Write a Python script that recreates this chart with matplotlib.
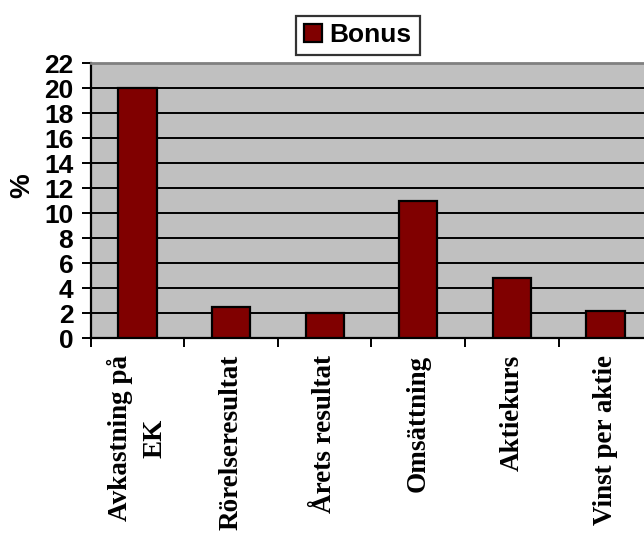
import numpy as np
import matplotlib
matplotlib.use("Agg")
import matplotlib.pyplot as plt

# data
categories = ["Avkastning på\nEK", "Rörelseresultat", "Årets resultat",
              "Omsättning", "Aktiekurs", "Vinst per aktie"]
bonus = [20, 2.5, 2, 11, 4.8, 2.2]
yticks = list(range(0, 23, 2))

fig = plt.figure(figsize=(6.44, 5.34), dpi=100)
# plot area runs past the right edge, as in the original
ax = fig.add_axes([90.7 / 644, 1 - 338.4 / 534, 561.6 / 644, 275 / 534])
ax.set_facecolor("#C0C0C0")

x = np.arange(len(categories)) + 0.5
ax.bar(x, bonus, width=0.41, color="#800000", edgecolor="black",
       linewidth=1.6, zorder=3, label="Bonus")

ax.set_xlim(0, len(categories))
ax.set_ylim(0, 22)
ax.set_yticks(yticks)
ax.set_yticklabels([str(v) for v in yticks], fontfamily="Liberation Sans",
                   fontweight="bold", fontsize=19)
ax.yaxis.grid(True, color="black", linewidth=1.4, zorder=1)
ax.set_axisbelow(True)

# ticks on category boundaries, labels at centres
ax.set_xticks(np.arange(len(categories) + 1))
ax.set_xticklabels([])
ax.set_xticks(x, minor=True)
ax.set_xticklabels(categories, minor=True, rotation=90, ha="center", va="top",
                   fontfamily="Liberation Serif", fontweight="bold",
                   fontsize=19.5, linespacing=1.5)
ax.tick_params(axis="x", which="minor", length=0, pad=12)
ax.tick_params(axis="x", which="major", length=6.5, width=1.4, direction="out")
ax.tick_params(axis="y", length=6.5, width=1.4, direction="out", pad=6)

for s in ["left", "bottom"]:
    ax.spines[s].set_color("black")
    ax.spines[s].set_linewidth(1.6)
ax.spines["top"].set_color("#808080")
ax.spines["top"].set_linewidth(2)
ax.spines["right"].set_visible(False)

fig.text(22 / 644, 1 - 186 / 534, "%", rotation=90, ha="center", va="center",
         fontfamily="Liberation Sans", fontweight="bold", fontsize=20)

leg = fig.legend(loc="center", bbox_to_anchor=(358 / 644, 1 - 35.5 / 534),
                 frameon=True, fancybox=False, handlelength=0.65,
                 handleheight=0.65, handletextpad=0.3, borderpad=0.3,
                 borderaxespad=0,
                 prop={"family": "Liberation Sans", "weight": "bold", "size": 19})
leg.get_frame().set_edgecolor("black")
leg.get_frame().set_linewidth(1.6)

fig.savefig("out.png", dpi=100)
